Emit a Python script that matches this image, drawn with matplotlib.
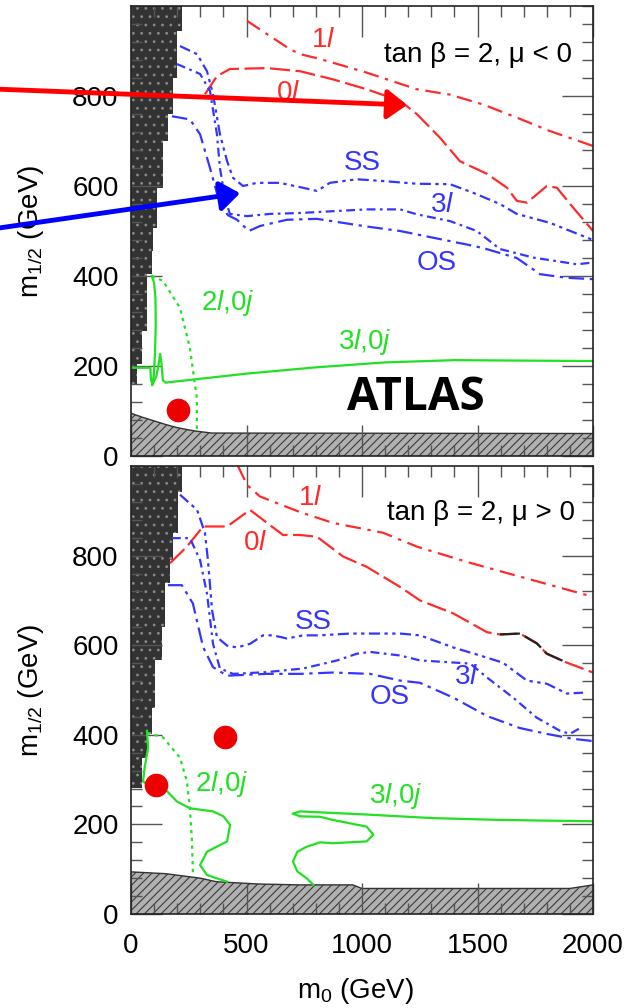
import numpy as np
import matplotlib.pyplot as plt
from matplotlib.ticker import MultipleLocator

plt.rcParams['font.family'] = ['Liberation Sans', 'DejaVu Sans']
plt.rcParams['mathtext.fontset'] = 'custom'
plt.rcParams['mathtext.rm'] = 'Liberation Sans'
plt.rcParams['mathtext.it'] = 'Liberation Sans:italic'
plt.rcParams['hatch.linewidth'] = 0.8

RED = '#ff2a2a'
BLUE = '#3535ff'
GREEN = '#22e022'

# ---------------- tan(beta)=2, mu<0 ----------------
top_excl_m12 = [160, 204, 278, 404, 455, 507, 596, 700, 760, 840, 944, 1000]
top_excl_m0 = [26, 48, 69, 91, 95, 113, 139, 160, 182, 199, 220, 220]
top_low_m0 = [0, 50, 100, 150, 200, 250, 285, 350, 2000]
top_low_m12 = [95, 86, 78, 70, 63, 58, 55, 51, 50]

top_1l_m0 = [502, 602, 688, 732, 805, 874, 1020, 1237, 1381, 1525, 1670, 1814, 2000]
top_1l_m12 = [967, 933, 904, 893, 884, 874, 852, 815, 803, 781, 752, 722, 689]
top_0l_m0 = [320, 372, 428, 589, 732, 874, 1020, 1165, 1237, 1338, 1424, 1541, 1628,
             1670, 1714, 1800, 1844, 1914, 2000]
top_0l_m12 = [804, 844, 860, 862, 855, 837, 815, 789, 760, 707, 655, 627, 596,
              567, 563, 600, 596, 552, 500]
top_ss_m0 = [212, 286, 329, 355, 385, 416, 442, 485, 545, 645, 745, 805, 861, 978,
             1091, 1238, 1381, 1481, 1597, 1670, 1814, 2000]
top_ss_m12 = [911, 893, 855, 804, 715, 655, 618, 600, 607, 607, 596, 589, 607, 615,
              611, 605, 604, 585, 560, 538, 518, 480]
top_3l_m0 = [199, 299, 342, 372, 385, 407, 428, 502, 602, 732, 874, 1020, 1165,
             1238, 1381, 1497, 1597, 1741, 1931, 2000]
top_3l_m12 = [871, 849, 811, 715, 640, 573, 538, 533, 538, 540, 544, 548, 548,
              537, 522, 500, 460, 441, 426, 430]
top_os_m0 = [177, 255, 299, 342, 385, 420, 459, 510, 558, 675, 805, 1020, 1165,
             1309, 1453, 1525, 1670, 1771, 1887, 2000]
top_os_m12 = [755, 748, 715, 640, 560, 535, 525, 500, 511, 525, 527, 510, 500,
              485, 470, 462, 440, 404, 396, 393]
top_2l_dot_m0 = [90, 139, 212, 255, 285, 285]
top_2l_dot_m12 = [400, 389, 329, 240, 129, 56]
top_2l_m0 = [0, 60, 84, 86, 92, 99, 104, 107, 106, 100, 90]
top_2l_m12 = [196, 196, 196, 172, 158, 180, 230, 290, 350, 385, 400]
top_3l0j_m0 = [92, 110, 120, 126, 132, 138, 150, 200, 500, 800, 1100, 1400, 2000]
top_3l0j_m12 = [158, 178, 205, 227, 205, 168, 163, 166, 183, 197, 208, 213, 211]
top_point = (205, 102)

# ---------------- tan(beta)=2, mu>0 ----------------
bot_excl_m12 = [281, 348, 402, 460, 566, 640, 738, 790, 851, 941, 1000]
bot_excl_m0 = [48, 69, 91, 104, 134, 147, 169, 182, 203, 221, 221]
bot_low_m0 = [0, 150, 300, 370, 550, 730, 960, 1000, 1900, 2000]
bot_low_m12 = [94, 90, 80, 72, 67, 65, 65, 57, 57, 65]

bot_1l_m0 = [463, 502, 558, 732, 874, 1091, 1238, 1453, 1628, 1741, 2000]
bot_1l_m12 = [1000, 958, 932, 897, 873, 851, 820, 786, 761, 745, 708]
bot_0l_m0 = [169, 242, 312, 416, 515, 589, 658, 732, 805, 918, 1020, 1165, 1251,
             1395, 1541, 1597, 1684, 1757, 1800, 1887, 2000]
bot_0l_m12 = [783, 820, 865, 865, 902, 873, 846, 846, 842, 798, 775, 730, 700,
              671, 629, 624, 626, 604, 581, 561, 539]
bot_ss_m0 = [212, 286, 320, 333, 351, 372, 416, 459, 515, 572, 615, 675, 745, 818,
             948, 1165, 1251, 1395, 1511, 1610, 1714, 1800, 1887, 1957]
bot_ss_m12 = [936, 902, 851, 790, 678, 618, 599, 595, 603, 622, 622, 615, 622, 622,
              626, 626, 622, 595, 577, 561, 521, 514, 492, 494]
bot_3l_m0 = [177, 255, 299, 329, 355, 385, 442, 589, 745, 892, 978, 1035, 1165,
             1251, 1468, 1541, 1654, 1757, 1857, 1900, 1944]
bot_3l_m12 = [839, 839, 790, 715, 603, 548, 536, 540, 548, 566, 581, 585, 577,
              566, 559, 528, 483, 438, 409, 402, 415]
bot_os_m0 = [160, 220, 268, 312, 355, 416, 589, 732, 874, 1035, 1165, 1251, 1395,
             1541, 1684, 1800, 1913, 2000]
bot_os_m12 = [734, 734, 693, 596, 551, 532, 536, 536, 539, 536, 521, 516, 483,
              442, 415, 402, 391, 386]
bot_2l_dot_m0 = [69, 139, 212, 242, 255, 264, 268]
bot_2l_dot_m12 = [405, 394, 349, 296, 236, 162, 90]
bot_2l_m0 = [69, 74, 60, 52, 80, 110, 156, 199, 255, 355, 400, 429, 416, 329, 299, 329, 416]
bot_2l_m12 = [409, 371, 330, 296, 285, 282, 274, 251, 236, 229, 218, 199, 162, 139, 109, 87, 72]
bot_3l0j_m0 = [2000, 1597, 1309, 1020, 732, 700, 732, 818, 874, 1020, 1049, 1020,
               874, 818, 760, 720, 701, 720, 760, 790]
bot_3l0j_m12 = [207, 210, 214, 222, 229, 224, 218, 217, 210, 195, 177, 162,
                158, 160, 150, 139, 117, 95, 80, 65]
bot_points_m0 = [407, 108]
bot_points_m12 = [394, 287]

LS_1L = (0, (7, 3, 1.5, 3))
LS_0L = (0, (9, 2.5))
LS_SS = (0, (5, 2, 1.5, 2, 1.5, 2))
LS_3L = (0, (4, 2, 1.2, 2))
LS_OS = (0, (7, 2.5, 1.5, 2.5))
LS_DOT = (0, (1.5, 2))
LW = 1.6

fig = plt.figure(figsize=(6.24, 10.08), dpi=100)
ax_top = fig.add_axes([131 / 624, 1 - 456 / 1008, 462 / 624, 450 / 1008])
ax_bot = fig.add_axes([131 / 624, 1 - 914 / 1008, 462 / 624, 448 / 1008])


def setup(ax):
    ax.set_xlim(0, 2000)
    ax.set_ylim(0, 1000)
    ax.set_xticks([0, 500, 1000, 1500, 2000])
    ax.set_yticks([0, 200, 400, 600, 800])
    ax.xaxis.set_minor_locator(MultipleLocator(100))
    ax.yaxis.set_minor_locator(MultipleLocator(40))
    ax.tick_params(which='both', direction='in', top=True, right=True,
                   color='#555555', width=1, labelsize=20)
    ax.tick_params(which='major', length=22)
    ax.tick_params(which='minor', length=8)
    ax.tick_params(axis='x', pad=14)
    ax.tick_params(axis='y', pad=9)
    for s in ax.spines.values():
        s.set_linewidth(1.2)
        s.set_color('#222222')
    ax.set_ylabel('m$_{1/2}$ (GeV)', fontsize=20)
    ax.yaxis.set_label_coords(-0.183, 0.5)


def shade(ax, excl_m12, excl_m0, low_m0, low_m12):
    ax.fill_betweenx(excl_m12, 0, excl_m0, step='post', facecolor='#333333',
                     edgecolor='#8a8a8a', hatch='..', lw=0, zorder=1)
    ax.fill_between(low_m0, 0, low_m12, facecolor='#b0b0b0', edgecolor='#3a3a3a',
                    hatch='////', lw=0, zorder=1)
    ax.plot(low_m0, low_m12, color='#333333', lw=1, zorder=1.5)


for ax in (ax_top, ax_bot):
    setup(ax)

# upper panel
shade(ax_top, top_excl_m12, top_excl_m0, top_low_m0, top_low_m12)
ax_top.plot(top_1l_m0, top_1l_m12, color=RED, lw=LW, ls=LS_1L)
ax_top.plot(top_0l_m0, top_0l_m12, color=RED, lw=LW, ls=LS_0L)
ax_top.plot(top_ss_m0, top_ss_m12, color=BLUE, lw=LW, ls=LS_SS)
ax_top.plot(top_3l_m0, top_3l_m12, color=BLUE, lw=LW, ls=LS_3L)
ax_top.plot(top_os_m0, top_os_m12, color=BLUE, lw=LW, ls=LS_OS)
ax_top.plot(top_2l_dot_m0, top_2l_dot_m12, color=GREEN, lw=LW, ls=LS_DOT)
ax_top.plot(top_2l_m0, top_2l_m12, color=GREEN, lw=LW)
ax_top.plot(top_3l0j_m0, top_3l0j_m12, color=GREEN, lw=LW)
ax_top.plot(*top_point, 'o', color='#ee0000', ms=16, zorder=5)
ax_top.tick_params(labelbottom=False)

ax_top.text(831, 924, '1$l$', color=RED, fontsize=20, ha='center', va='center')
ax_top.text(680, 806, '0$l$', color=RED, fontsize=20, ha='center', va='center')
ax_top.text(1000, 651, 'SS', color=BLUE, fontsize=20, ha='center', va='center')
ax_top.text(1346, 558, '3$l$', color=BLUE, fontsize=20, ha='center', va='center')
ax_top.text(1325, 429, 'OS', color=BLUE, fontsize=20, ha='center', va='center')
ax_top.text(420, 340, '2$l$,0$j$', color=GREEN, fontsize=20, ha='center', va='center')
ax_top.text(1013, 253, '3$l$,0$j$', color=GREEN, fontsize=20, ha='center', va='center')
ax_top.text(1909, 891, 'tan β = 2, μ < 0', fontsize=20, ha='right', va='center')
ax_top.text(1234, 131, 'ATLAS', fontsize=33, fontweight='bold', family='Open Sans',
            ha='center', va='center', zorder=6)

# lower panel
shade(ax_bot, bot_excl_m12, bot_excl_m0, bot_low_m0, bot_low_m12)
ax_bot.plot(bot_1l_m0, bot_1l_m12, color=RED, lw=LW, ls=LS_1L)
ax_bot.plot(bot_0l_m0, bot_0l_m12, color=RED, lw=LW, ls=LS_0L)
m0 = np.array(bot_0l_m0)
seg = (m0 >= 1597) & (m0 <= 1887)
ax_bot.plot(m0[seg], np.array(bot_0l_m12)[seg], color='#222222', lw=LW, ls=LS_0L)
ax_bot.plot(bot_ss_m0, bot_ss_m12, color=BLUE, lw=LW, ls=LS_SS)
ax_bot.plot(bot_3l_m0, bot_3l_m12, color=BLUE, lw=LW, ls=LS_3L)
ax_bot.plot(bot_os_m0, bot_os_m12, color=BLUE, lw=LW, ls=LS_OS)
ax_bot.plot(bot_2l_dot_m0, bot_2l_dot_m12, color=GREEN, lw=LW, ls=LS_DOT)
ax_bot.plot(bot_2l_m0, bot_2l_m12, color=GREEN, lw=LW)
ax_bot.plot(bot_3l0j_m0, bot_3l0j_m12, color=GREEN, lw=LW)
ax_bot.plot(bot_points_m0, bot_points_m12, 'o', color='#ee0000', ms=16, zorder=5)

ax_bot.text(775, 929, '1$l$', color=RED, fontsize=20, ha='center', va='center')
ax_bot.text(537, 828, '0$l$', color=RED, fontsize=20, ha='center', va='center')
ax_bot.text(788, 651, 'SS', color=BLUE, fontsize=20, ha='center', va='center')
ax_bot.text(1450, 529, '3$l$', color=BLUE, fontsize=20, ha='center', va='center')
ax_bot.text(1121, 485, 'OS', color=BLUE, fontsize=20, ha='center', va='center')
ax_bot.text(393, 290, '2$l$,0$j$', color=GREEN, fontsize=20, ha='center', va='center')
ax_bot.text(1147, 263, '3$l$,0$j$', color=GREEN, fontsize=20, ha='center', va='center')
ax_bot.text(1922, 896, 'tan β = 2, μ > 0', fontsize=20, ha='right', va='center')
ax_bot.set_xlabel('m$_0$ (GeV)', fontsize=20)
ax_bot.xaxis.set_label_coords(0.485, -0.138)

# arrows pointing at the 0l and SS curves
head = '-|>,head_length=0.6,head_width=0.45'
ax_top.annotate('', xy=(1195, 780), xytext=(-567, 815), annotation_clip=False,
                arrowprops=dict(arrowstyle=head, color='red', lw=3.5,
                                mutation_scale=20, shrinkA=0, shrinkB=0), zorder=10)
ax_top.annotate('', xy=(472, 584), xytext=(-567, 507), annotation_clip=False,
                arrowprops=dict(arrowstyle=head, color='blue', lw=3.5,
                                mutation_scale=20, shrinkA=0, shrinkB=0), zorder=10)

fig.savefig('out.png', dpi=100)
